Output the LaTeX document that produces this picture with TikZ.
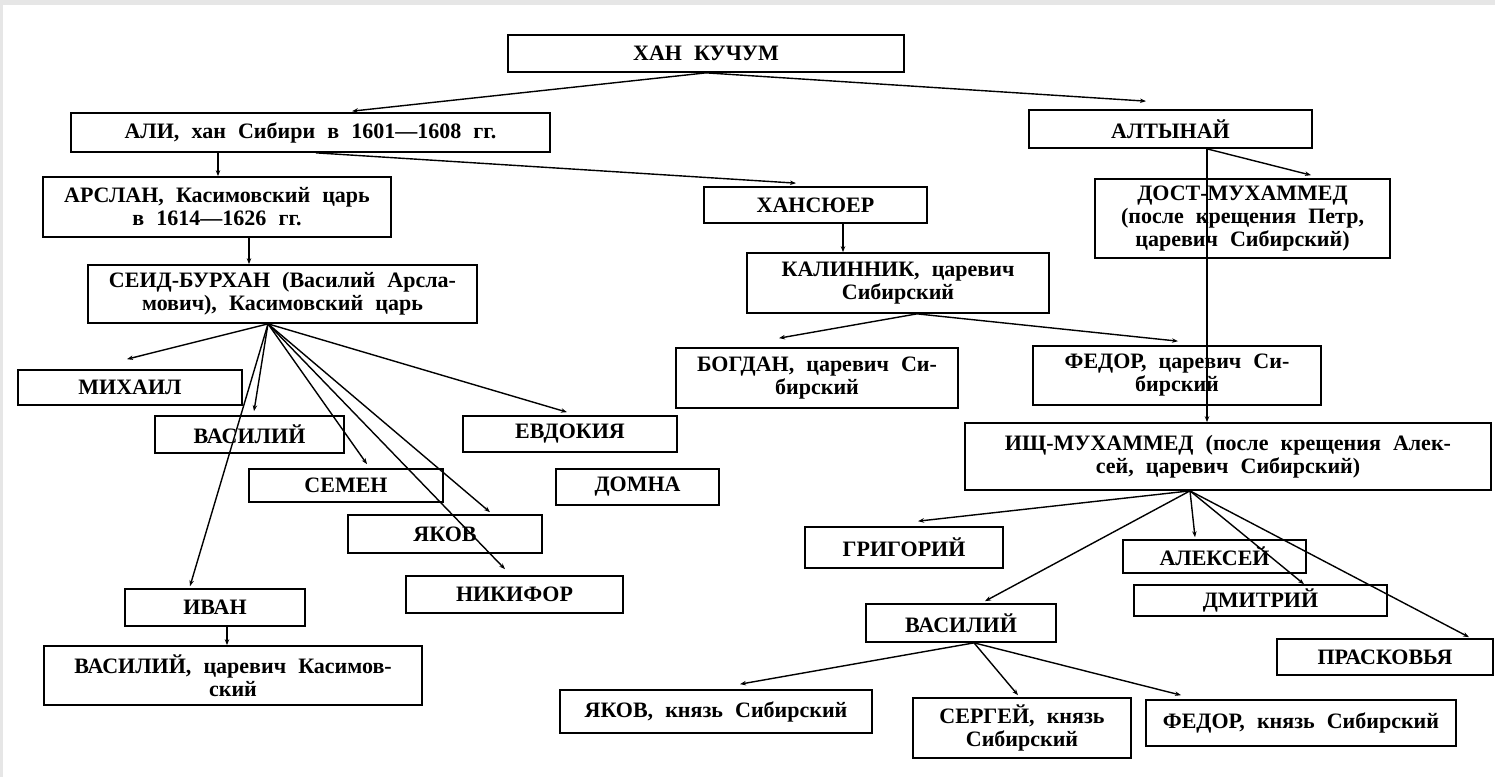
\documentclass[tikz,border=0pt]{standalone}
\usepackage{fontspec}
\setmainfont[WordSpace=2.2]{Liberation Serif}
\usetikzlibrary{arrows.meta,calc}
\definecolor{edgegray}{HTML}{E6E6E6}
\begin{document}
\begin{tikzpicture}[x=1pt,y=1pt,
  box/.style={draw=black, line width=1.7pt, align=center, inner sep=0pt,
    font=\fontsize{22}{23}\selectfont\bfseries},
  link/.style={line width=1.4pt, -{Stealth[length=6pt,width=4.5pt]}}]
\fill[edgegray] (0,0) rectangle (1495,-777);
\fill[white] (3,-5) rectangle (1495,-777);
\useasboundingbox (0,0) rectangle (1495,-777);

\newcommand{\bx}[6]{\node[box, minimum width=#4pt, minimum height=#5pt] (#1) at (#2,-#3) {#6};}
\bx{kuchum}{706}{53.5}{396}{37}{ХАН КУЧУМ}
\bx{ali}{310.5}{132.5}{479}{39}{АЛИ, хан Сибири в 1601—1608 гг.}
\bx{altynai}{1170.5}{129}{283}{38}{АЛТЫНАЙ}
\bx{arslan}{217}{207}{348}{60}{АРСЛАН, Касимовский царь\\в 1614—1626 гг.}
\bx{khansyuer}{815.5}{205}{223}{36}{ХАНСЮЕР}
\bx{dost}{1242.5}{218.5}{295}{79}{ДОСТ-МУХАММЕД\\(после крещения Петр,\\царевич Сибирский)}
\bx{seid}{282.5}{294}{389}{58}{СЕИД-БУРХАН (Василий Арсла-\\мович), Касимовский царь}
\bx{kalinnik}{898}{283}{302}{60}{КАЛИННИК, царевич\\Сибирский}
\bx{mikhail}{130}{387.5}{224}{35}{МИХАИЛ}
\bx{bogdan}{817}{378}{282}{60}{БОГДАН, царевич Си-\\бирский}
\bx{fedorA}{1177}{375.5}{288}{59}{ФЕДОР, царевич Си-\\бирский}
\bx{vasiliyA}{249.5}{434.5}{189}{37}{ВАСИЛИЙ}
\bx{evdokiya}{570}{434}{214}{36}{ЕВДОКИЯ}
\bx{ishch}{1228}{456.5}{526}{67}{ИЩ-МУХАММЕД (после крещения Алек-\\сей, царевич Сибирский)}
\bx{semen}{346}{485.5}{194}{33}{СЕМЕН}
\bx{domna}{637.5}{487}{163}{36}{ДОМНА}
\bx{yakovA}{445}{534}{194}{38}{ЯКОВ}
\bx{grigoriy}{904}{547.5}{198}{41}{ГРИГОРИЙ}
\bx{aleksey}{1214.5}{556.5}{183}{33}{АЛЕКСЕЙ}
\bx{nikifor}{514.5}{594.5}{217}{37}{НИКИФОР}
\bx{ivan}{215}{607.5}{180}{37}{ИВАН}
\bx{dmitriy}{1260.5}{600.5}{253}{31}{ДМИТРИЙ}
\bx{vasiliyB}{961}{623}{190}{38}{ВАСИЛИЙ}
\bx{praskovya}{1385}{657}{216}{36}{ПРАСКОВЬЯ}
\bx{vasiliyC}{233}{675.5}{378}{59}{ВАСИЛИЙ, царевич Касимов-\\ский}
\bx{yakovB}{716}{711.5}{312}{43}{ЯКОВ, князь Сибирский}
\bx{sergey}{1022}{728}{218}{60}{СЕРГЕЙ, князь\\Сибирский}
\bx{fedorB}{1301}{723}{310}{46}{ФЕДОР, князь Сибирский}

% connectors
\draw[link] (kuchum.south) -- ([xshift=41.5,yshift=1]ali.north);
\draw[link] (kuchum.south) -- ([xshift=-24.5,yshift=8]altynai.north);
\draw[link] ([xshift=-92.5]ali.south) -- ([xshift=1]arslan.north);
\draw[link] ([xshift=5.5]ali.south) -- ([xshift=-19.5,yshift=3]khansyuer.north);
\draw[link] ([xshift=32]arslan.south) -- ([xshift=-33.5]seid.north);
\draw[link] ([xshift=27.5]khansyuer.south) -- ([xshift=-55]kalinnik.north);
\draw[link] ([xshift=36.5]altynai.south) -- ([xshift=68.5,yshift=3]dost.north);
\draw[link] ([xshift=36.5]altynai.south) -- ([xshift=-21]ishch.north);

\coordinate (seidhub) at ([xshift=-14.5]seid.south);
\draw[link] (seidhub) -- ([xshift=-3,yshift=10]mikhail.north);
\draw[link] (seidhub) -- ([xshift=4.5,yshift=4]vasiliyA.north);
\draw[link] (seidhub) -- ([xshift=-25,yshift=2]ivan.north);
\draw[link] (seidhub) -- ([xshift=21,yshift=4]semen.north);
\draw[link] (seidhub) -- ([xshift=45,yshift=2]yakovA.north);
\draw[link] (seidhub) -- ([xshift=-9.5,yshift=6]nikifor.north);
\draw[link] (seidhub) -- ([xshift=-3,yshift=3]evdokiya.north);
\draw[link] ([xshift=12]ivan.south) -- ([xshift=-6]vasiliyC.north);

\coordinate (kalhub) at ([xshift=19]kalinnik.south);
\draw[link] (kalhub) -- ([xshift=-38,yshift=9]bogdan.north);
\draw[link] (kalhub) -- ([xshift=1,yshift=4]fedorA.north);

\coordinate (ishhub) at ([xshift=-38]ishch.south);
\draw[link] (ishhub) -- ([xshift=14,yshift=5]grigoriy.north);
\draw[link] (ishhub) -- ([xshift=24,yshift=2]vasiliyB.north);
\draw[link] (ishhub) -- ([xshift=-19.5,yshift=2]aleksey.north);
\draw[link] (ishhub) -- ([xshift=43.5]dmitriy.north);
\draw[link] (ishhub) -- ([xshift=84,yshift=1]praskovya.north);

\coordinate (vashub) at ([xshift=13]vasiliyB.south);
\draw[link] (vashub) -- ([xshift=24,yshift=5]yakovB.north);
\draw[link] (vashub) -- ([xshift=-4,yshift=2]sergey.north);
\draw[link] (vashub) -- ([xshift=-120,yshift=4]fedorB.north);
\end{tikzpicture}
\end{document}
